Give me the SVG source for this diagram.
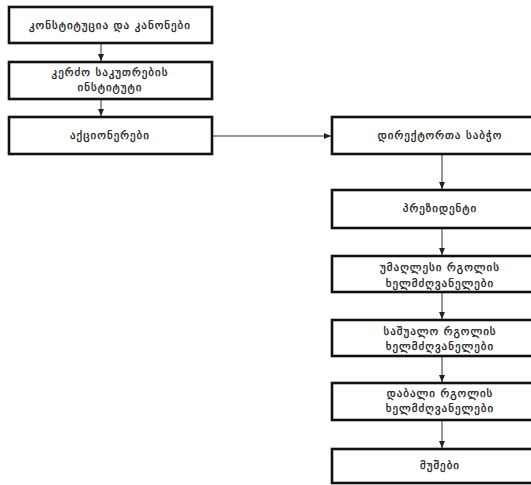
<svg xmlns="http://www.w3.org/2000/svg" width="531" height="485" viewBox="0 0 531 485">
<defs>
<marker id="arr" markerWidth="8" markerHeight="8" refX="7" refY="3" orient="auto" markerUnits="userSpaceOnUse">
<path d="M0,0 L7,3 L0,6 Z" fill="#222"/>
</marker>
<style>
.box{fill:#fff;stroke:#111;stroke-width:2.6}
.t{font-family:"DejaVu Sans","Noto Sans",sans-serif;font-size:11px;fill:#111;stroke:#111;stroke-width:0.25;text-anchor:middle;dominant-baseline:central;letter-spacing:1px}
.c{stroke:#333;stroke-width:1;fill:none;marker-end:url(#arr)}
</style>
</defs>
<rect width="531" height="485" fill="#fff"/>
<g id="connectors">
<line class="c" x1="101" y1="44" x2="101" y2="61"/>
<line class="c" x1="101" y1="100" x2="101" y2="116"/>
<line class="c" x1="213" y1="136" x2="331" y2="136"/>
<line class="c" x1="442" y1="155" x2="442" y2="189"/>
<line class="c" x1="442" y1="229" x2="442" y2="255"/>
<line class="c" x1="442" y1="293" x2="442" y2="319"/>
<line class="c" x1="442" y1="357" x2="442" y2="382"/>
<line class="c" x1="442" y1="421" x2="442" y2="448"/>
</g>
<g id="n1"><rect class="box" x="9" y="7" width="203" height="36"/><text class="t" x="110" y="25">კონსტიტუცია და კანონები</text></g>
<g id="n2"><rect class="box" x="9" y="62" width="203" height="37"/><text class="t" x="110" y="72">კერძო საკუთრების</text><text class="t" x="110" y="87">ინსტიტუტი</text></g>
<g id="n3"><rect class="box" x="9" y="117" width="203" height="37"/><text class="t" x="110" y="135">აქციონერები</text></g>
<g id="n4"><rect class="box" x="332" y="117" width="220" height="37"/><text class="t" x="440" y="135">დირექტორთა საბჭო</text></g>
<g id="n5"><rect class="box" x="332" y="190" width="220" height="38"/><text class="t" x="440" y="208">პრეზიდენტი</text></g>
<g id="n6"><rect class="box" x="332" y="256" width="220" height="36"/><text class="t" x="440" y="267">უმაღლესი რგოლის</text><text class="t" x="440" y="283">ხელმძღვანელები</text></g>
<g id="n7"><rect class="box" x="332" y="320" width="220" height="36"/><text class="t" x="440" y="331">საშუალო რგოლის</text><text class="t" x="440" y="346">ხელმძღვანელები</text></g>
<g id="n8"><rect class="box" x="332" y="383" width="220" height="37"/><text class="t" x="440" y="393">დაბალი რგოლის</text><text class="t" x="440" y="408">ხელმძღვანელები</text></g>
<g id="n9"><rect class="box" x="332" y="449" width="220" height="34"/><text class="t" x="440" y="465">მუშები</text></g>
</svg>
